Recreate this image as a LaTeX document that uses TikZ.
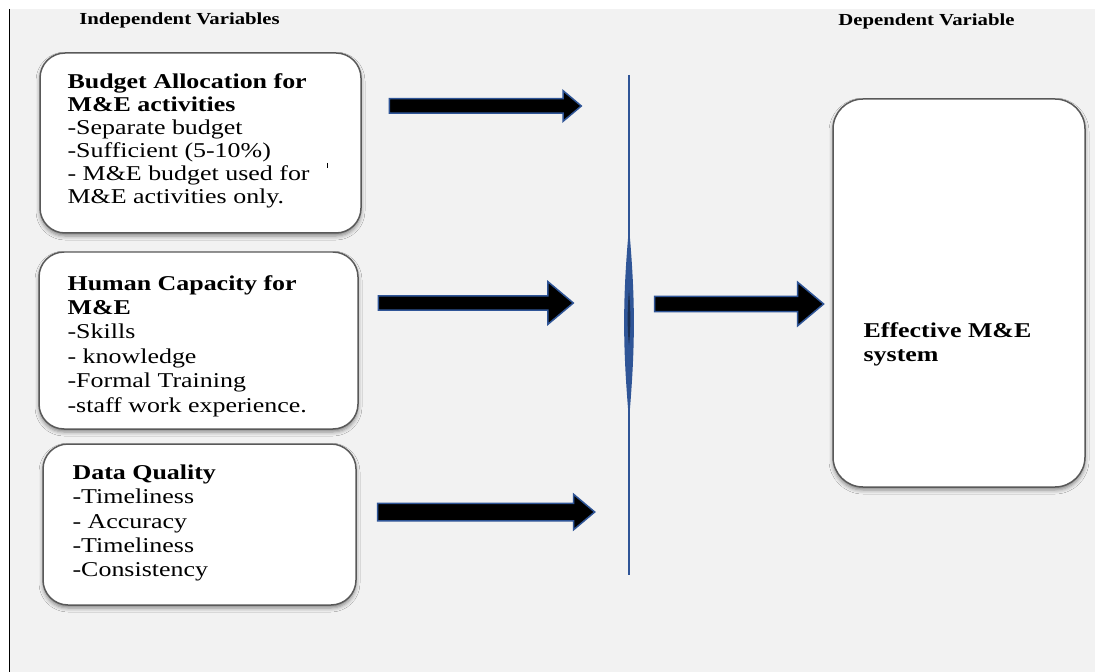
\documentclass[tikz,border=0pt]{standalone}
\usepackage{fontspec}
\setmainfont{Liberation Serif}[FakeStretch=1.23]
\usetikzlibrary{fit,shapes.arrows,shadows.blur}

\definecolor{bggray}{HTML}{F2F2F2}
\definecolor{arrowblue}{HTML}{2F5597}
\definecolor{boxline}{HTML}{595959}

\tikzset{
    varbox/.style={draw=boxline, line width=0.03cm, fill=white, inner sep=0pt,
        rounded corners=0.5cm,
        blur shadow={shadow xshift=0pt, shadow yshift=-0.06cm,
            shadow blur radius=0.08cm, shadow opacity=45}},
    boxtext/.style={anchor=north west, inner sep=0pt, align=left},
    heading/.style={anchor=base west, inner sep=0pt,
        font=\fontsize{9.6}{11}\selectfont\bfseries},
    blockarrow/.style={single arrow, fill=black, draw=arrowblue,
        line width=0.03cm, single arrow tip angle=80, inner xsep=0pt}
}

\begin{document}
\begin{tikzpicture}[x=0.02cm, y=-0.02cm]
    \useasboundingbox (0,0) rectangle (1095,672);
    \fill[white] (0,0) rectangle (1095,672);
    \fill[bggray] (10,9) rectangle (1095,672);
    \draw[line width=0.02cm] (9.5,9) -- (9.5,672);

    % headings
    \node[heading] (indep) at (79,25) {Independent Variables};
    \node[heading] (dep) at (838,26) {Dependent Variable};

    % independent variables
    \node[varbox, fit={(40,53) (361,233)}] (budget) {};
    \node[boxtext, font=\fontsize{12}{13.1}\selectfont]
        (budgettxt) at ([shift={(28,20.6)}]budget.north west)
        {\textbf{Budget Allocation for}\\ \textbf{M\&E activities}\\
         -Separate budget\\ -Sufficient (5-10\%)\\
         - M\&E budget used for\\ M\&E activities only.};
    \draw[line width=0.02cm] (327.5,163) -- (327.5,168);

    \node[varbox, fit={(39,252) (358,429)}] (human) {};
    \node[boxtext, font=\fontsize{12}{13.9}\selectfont]
        (humantxt) at ([shift={(29,23.6)}]human.north west)
        {\textbf{Human Capacity for}\\ \textbf{M\&E}\\
         -Skills\\ - knowledge\\ -Formal Training\\
         -staff work experience.};

    \node[varbox, fit={(43,444) (356,605)}] (quality) {};
    \node[boxtext, font=\fontsize{12}{13.9}\selectfont]
        (qualitytxt) at ([shift={(30,21)}]quality.north west)
        {\textbf{Data Quality}\\ -Timeliness\\ - Accuracy\\
         -Timeliness\\ -Consistency};

    % dependent variable
    \node[varbox, rounded corners=0.6cm, fit={(833,99) (1085,487)}] (effective) {};
    \node[boxtext, font=\fontsize{12}{13.6}\selectfont\bfseries]
        (effectivetxt) at ([shift={(31,224)}]effective.north west)
        {Effective M\&E\\ system};

    % arrows
    \node[blockarrow, minimum height=3.84cm, inner ysep=0.13cm,
        single arrow head extend=0.16cm] (arrbudget) at (481,106) {};
    \node[blockarrow, minimum height=3.9cm, inner ysep=0.13cm,
        single arrow head extend=0.28cm] (arrhuman) at (471.5,303) {};
    \node[blockarrow, minimum height=4.34cm, inner ysep=0.16cm,
        single arrow head extend=0.18cm] (arrquality) at (481,512) {};
    \node[blockarrow, minimum height=3.38cm, inner ysep=0.14cm,
        single arrow head extend=0.28cm] (arreffective) at (734.5,304) {};

    % joining line
    \draw[arrowblue, line width=0.04cm] (629,75) -- (629,575);
    \fill[arrowblue] (629,227) .. controls (635.5,300) and (635.5,345) .. (629,420)
        .. controls (622.5,345) and (622.5,300) .. (629,227);
    \fill[arrowblue!55!black] (629,290) .. controls (630.8,310) and (630.8,330) .. (629,345)
        .. controls (627.2,330) and (627.2,310) .. (629,290);
\end{tikzpicture}
\end{document}
